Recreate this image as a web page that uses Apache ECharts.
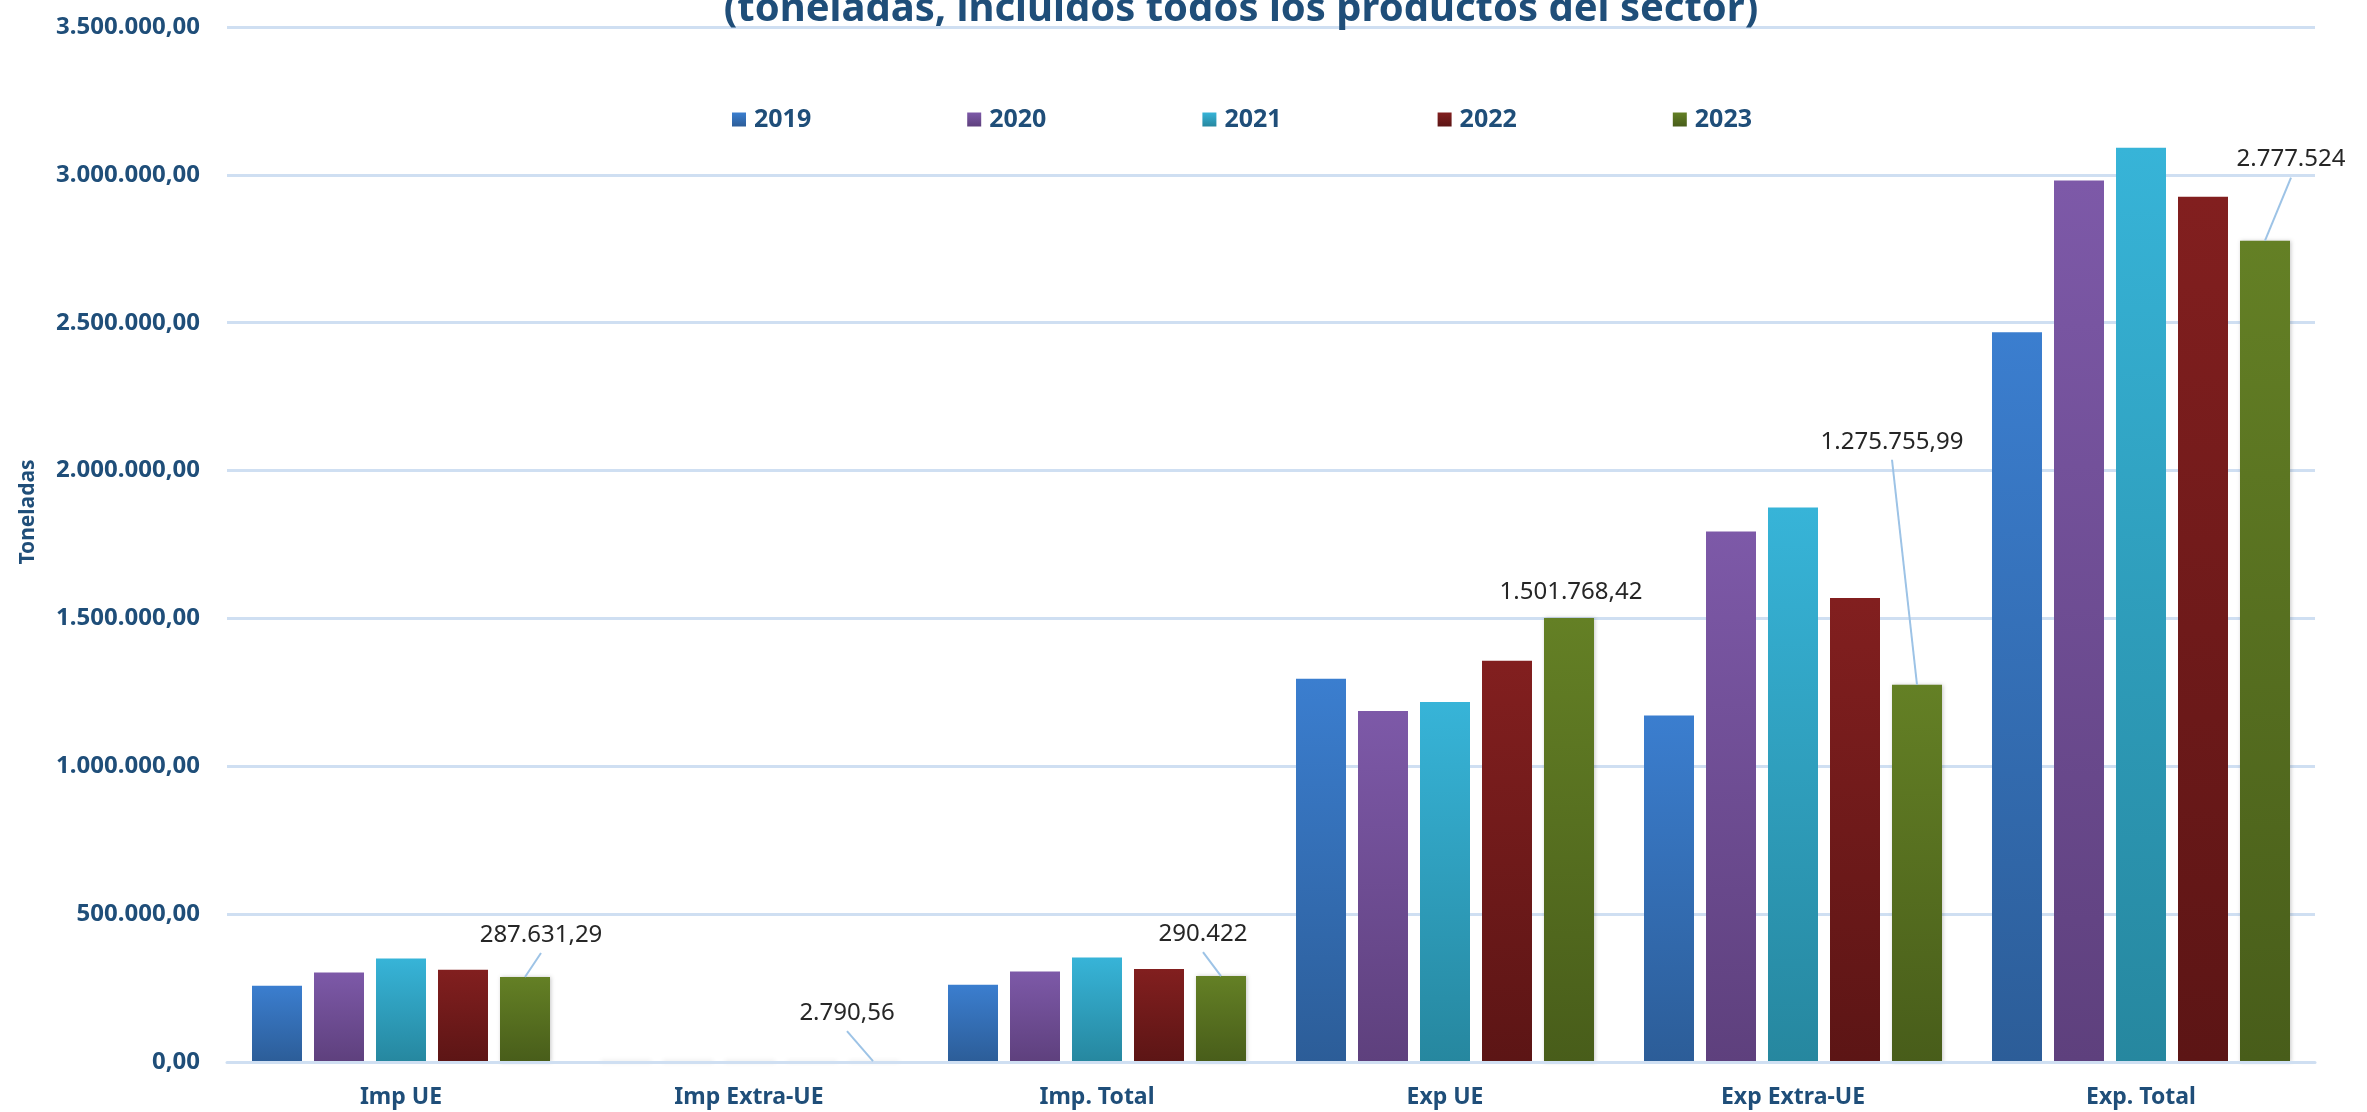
<!DOCTYPE html>
<html>
<head>
<meta charset="utf-8">
<script src="https://cdn.jsdelivr.net/npm/echarts@6/dist/echarts.min.js"></script>
<style>
html,body{margin:0;padding:0;background:#fff;}
#c{width:2367px;height:1112px;}
</style>
</head>
<body>
<div id="c"></div>
<script>
// ---- data ----
const categories = ['Imp UE', 'Imp Extra-UE', 'Imp. Total', 'Exp UE', 'Exp Extra-UE', 'Exp. Total'];
const years = ['2019', '2020', '2021', '2022', '2023'];
const values2019 = [258000, 3500, 261500, 1296000, 1172000, 2468000];
const values2020 = [303000, 3200, 306200, 1187000, 1794000, 2981000];
const values2021 = [350000, 3600, 353600, 1217000, 1875000, 3092000];
const values2022 = [312000, 2900, 314900, 1357000, 1569000, 2926000];
const values2023 = [287631.29, 2790.56, 290422, 1501768.42, 1275755.99, 2777524];
const labelDecimals2023 = [2, 2, 0, 2, 2, 0];
const yTicks = { min: 0, max: 3500000, interval: 500000 };
const titleText = '(toneladas, incluidos todos los productos del sector)';
const yAxisTitle = 'Toneladas';

// ---- styling ----
const colorPairs = [
  ['#3b7ecf', '#2c5d98'],
  ['#7d59a8', '#5e407d'],
  ['#37b4d8', '#26879f'],
  ['#821f1f', '#5c1515'],
  ['#648025', '#485d1a']
];
// label offsets from default 'top' position, and whether a leader line is drawn
const labelOffsets = [[16, -25], [-26, -31], [-18, -25], [2, -9], [-25, -226], [26, -64]];
const labelLineShown = [true, true, true, false, true, true];
const blue = '#1f4e79';
const font = 'Noto Sans';
const leaderColor = '#9dc3e6';

function fmt(v, dec) {
  const neg = v < 0;
  const fixed = Math.abs(v).toFixed(dec);
  const parts = fixed.split('.');
  const ip = parts[0].replace(/\B(?=(\d{3})+(?!\d))/g, '.');
  return (neg ? '-' : '') + ip + (dec > 0 ? ',' + parts[1] : '');
}

const seriesValues = [values2019, values2020, values2021, values2022, values2023];

const series = years.map((y, i) => {
  const s = {
    name: y,
    type: 'bar',
    data: seriesValues[i],
    barWidth: 50,
    barGap: '24%',
    itemStyle: {
      color: new echarts.graphic.LinearGradient(0, 0, 0, 1, [
        { offset: 0, color: colorPairs[i][0] },
        { offset: 1, color: colorPairs[i][1] }
      ]),
      shadowColor: 'rgba(0,0,0,0.22)',
      shadowBlur: 4,
      shadowOffsetX: 1,
      shadowOffsetY: 0
    },
    emphasis: { disabled: true }
  };
  if (i === 4) {
    s.label = {
      show: true,
      position: 'top',
      distance: 5,
      color: '#262626',
      fontFamily: font,
      fontSize: 24,
      formatter: p => fmt(p.value, labelDecimals2023[p.dataIndex])
    };
    s.labelLayout = function (p) {
      const o = labelOffsets[p.dataIndex];
      return { dx: o[0], dy: o[1] };
    };
  }
  return s;
});

const baseGraphic = [
  {
    id: 'title',
    type: 'text',
    x: 1241,
    y: 10,
    z: 10,
    style: {
      text: titleText,
      align: 'center',
      verticalAlign: 'middle',
      fill: blue,
      font: 'bold 40px "Noto Sans"'
    }
  },
  {
    id: 'yname',
    type: 'text',
    x: 28,
    y: 512,
    rotation: Math.PI / 2,
    style: {
      text: yAxisTitle,
      align: 'center',
      verticalAlign: 'middle',
      fill: blue,
      font: 'bold 21px "Noto Sans"'
    }
  }
];

const chart = echarts.init(document.getElementById('c'), null, { renderer: 'canvas' });
chart.setOption({
  animation: false,
  backgroundColor: '#ffffff',
  graphic: baseGraphic,
  legend: {
    data: years,
    left: 727,
    top: 102,
    itemWidth: 14,
    itemHeight: 14,
    itemGap: 156,
    icon: 'rect',
    textStyle: { color: blue, fontFamily: font, fontWeight: 'bold', fontSize: 25, padding: [0, 0, 0, 3] }
  },
  grid: { left: 227, right: 52, top: 27, bottom: 50, containLabel: false },
  xAxis: {
    type: 'category',
    data: categories,
    z: 3,
    axisLine: { show: true, lineStyle: { color: '#cfdff2', width: 3 } },
    axisTick: { show: false },
    axisLabel: { color: blue, fontFamily: font, fontWeight: 'bold', fontSize: 23, margin: 24 }
  },
  yAxis: {
    type: 'value',
    min: yTicks.min,
    max: yTicks.max,
    interval: yTicks.interval,
    axisLine: { show: false },
    axisTick: { show: false },
    splitLine: { lineStyle: { color: '#cfdff2', width: 3 } },
    axisLabel: {
      color: blue, fontFamily: font, fontWeight: 'bold', fontSize: 24, margin: 27,
      formatter: v => fmt(v, 2)
    }
  },
  series: series
});

// leader lines: from the moved label to the top centre of its bar (bar geometry from the library's layout)
const barData = chart.getModel().getSeriesByIndex(4).getData();
const leaders = [];
for (let i = 0; i < categories.length; i++) {
  if (!labelLineShown[i]) continue;
  const l = barData.getItemLayout(i);
  if (!l) continue;
  const cx = l.x + l.width / 2;
  const top = Math.min(l.y, l.y + l.height);
  const o = labelOffsets[i];
  leaders.push({
    id: 'leader' + i,
    type: 'line',
    z: 5,
    shape: { x1: cx + o[0], y1: top + o[1] + 1, x2: cx, y2: top },
    style: { stroke: leaderColor, lineWidth: 2 }
  });
}
chart.setOption({ graphic: baseGraphic.concat(leaders) });
</script>
</body>
</html>
